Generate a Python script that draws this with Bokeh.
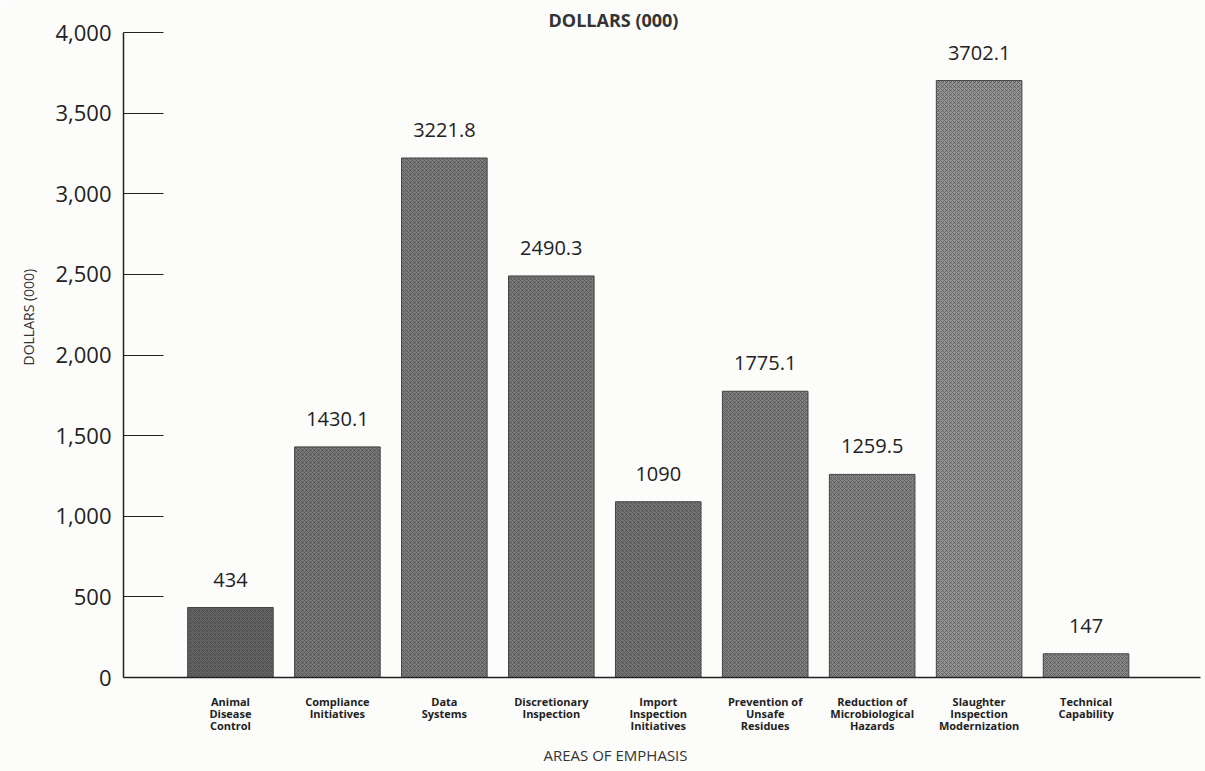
from bokeh.plotting import figure
from bokeh.models import ColumnDataSource, FixedTicker, Range1d, NumeralTickFormatter, Title
from bokeh.core.properties import value
from bokeh.embed import file_html
from bokeh.resources import INLINE

categories = ["Animal\nDisease\nControl", "Compliance\nInitiatives", "Data\nSystems",
              "Discretionary\nInspection", "Import\nInspection\nInitiatives",
              "Prevention of\nUnsafe\nResidues", "Reduction of\nMicrobiological\nHazards",
              "Slaughter\nInspection\nModernization", "Technical\nCapability"]
amounts = [434, 1430.1, 3221.8, 2490.3, 1090, 1775.1, 1259.5, 3702.1, 147]
amount_labels = ["434", "1430.1", "3221.8", "2490.3", "1090", "1775.1", "1259.5", "3702.1", "147"]
bar_colors = ["#646464", "#787878", "#7c7c7c", "#7a7a7a", "#747474", "#7e7e7e", "#848484", "#939393", "#888888"]
y_ticks = [0, 500, 1000, 1500, 2000, 2500, 3000, 3500, 4000]

xs = list(range(len(categories)))
src = ColumnDataSource(dict(x=xs, top=amounts, lab=amount_labels, color=bar_colors))

p = figure(width=1205, height=771, output_backend="svg", toolbar_location=None,
           x_range=Range1d(-1.0, 9.07), y_range=Range1d(0, 4000),
           min_border_left=123, min_border_right=5, min_border_top=32, min_border_bottom=92,
           background_fill_color="#fcfcfa", border_fill_color="#fcfcfa",
           title="DOLLARS (000)")
p.outline_line_color = None
p.grid.grid_line_color = None

p.title.align = "left"
p.title.offset = 425
p.title.standoff = 2
p.title.text_font = "Open Sans"
p.title.text_font_size = "18px"
p.title.text_font_style = "bold"
p.title.text_color = "#333333"

p.vbar(x="x", top="top", width=0.8, source=src, fill_color="color",
       line_color="#444444", line_width=1,
       hatch_pattern="diagonal_cross", hatch_color="#3a3a3a", hatch_alpha=0.45,
       hatch_scale=4, hatch_weight=1)

p.text(x="x", y="top", text="lab", source=src, y_offset=-28,
       text_align="center", text_baseline="middle",
       text_font=value("Open Sans"), text_font_size="20px", text_color="#222222")

# y axis
ya = p.yaxis[0]
ya.ticker = FixedTicker(ticks=y_ticks)
ya.formatter = NumeralTickFormatter(format="0,0")
ya.major_tick_in = 40
ya.major_tick_out = 0
ya.minor_tick_line_color = None
ya.major_tick_line_color = "#222222"
ya.axis_line_color = "#222222"
ya.axis_line_width = 1.5
ya.major_label_text_font = "Open Sans"
ya.major_label_text_font_size = "22px"
ya.major_label_text_color = "#222222"
ya.major_label_standoff = 12

# x axis
xa = p.xaxis[0]
xa.ticker = FixedTicker(ticks=xs)
xa.major_label_overrides = {i: c for i, c in zip(xs, categories)}
xa.major_tick_line_color = None
xa.minor_tick_line_color = None
xa.axis_line_color = "#222222"
xa.axis_line_width = 1.5
xa.major_label_text_font = "Open Sans"
xa.major_label_text_font_size = "11px"
xa.major_label_text_font_style = "bold"
xa.major_label_text_color = "#222222"
xa.major_label_text_line_height = 0.8
xa.major_label_standoff = 10

# axis titles as side titles
ytitle = Title(text="DOLLARS (000)", align="left", offset=312, standoff=30,
               text_font="Open Sans", text_font_size="14px", text_font_style="normal",
               text_color="#333333")
p.add_layout(ytitle, "left")
xtitle = Title(text="AREAS OF EMPHASIS", align="left", offset=420, standoff=14,
               text_font="Open Sans", text_font_size="15px", text_font_style="normal",
               text_color="#333333")
p.add_layout(xtitle, "below")

open("out.html", "w").write(file_html(p, INLINE))
